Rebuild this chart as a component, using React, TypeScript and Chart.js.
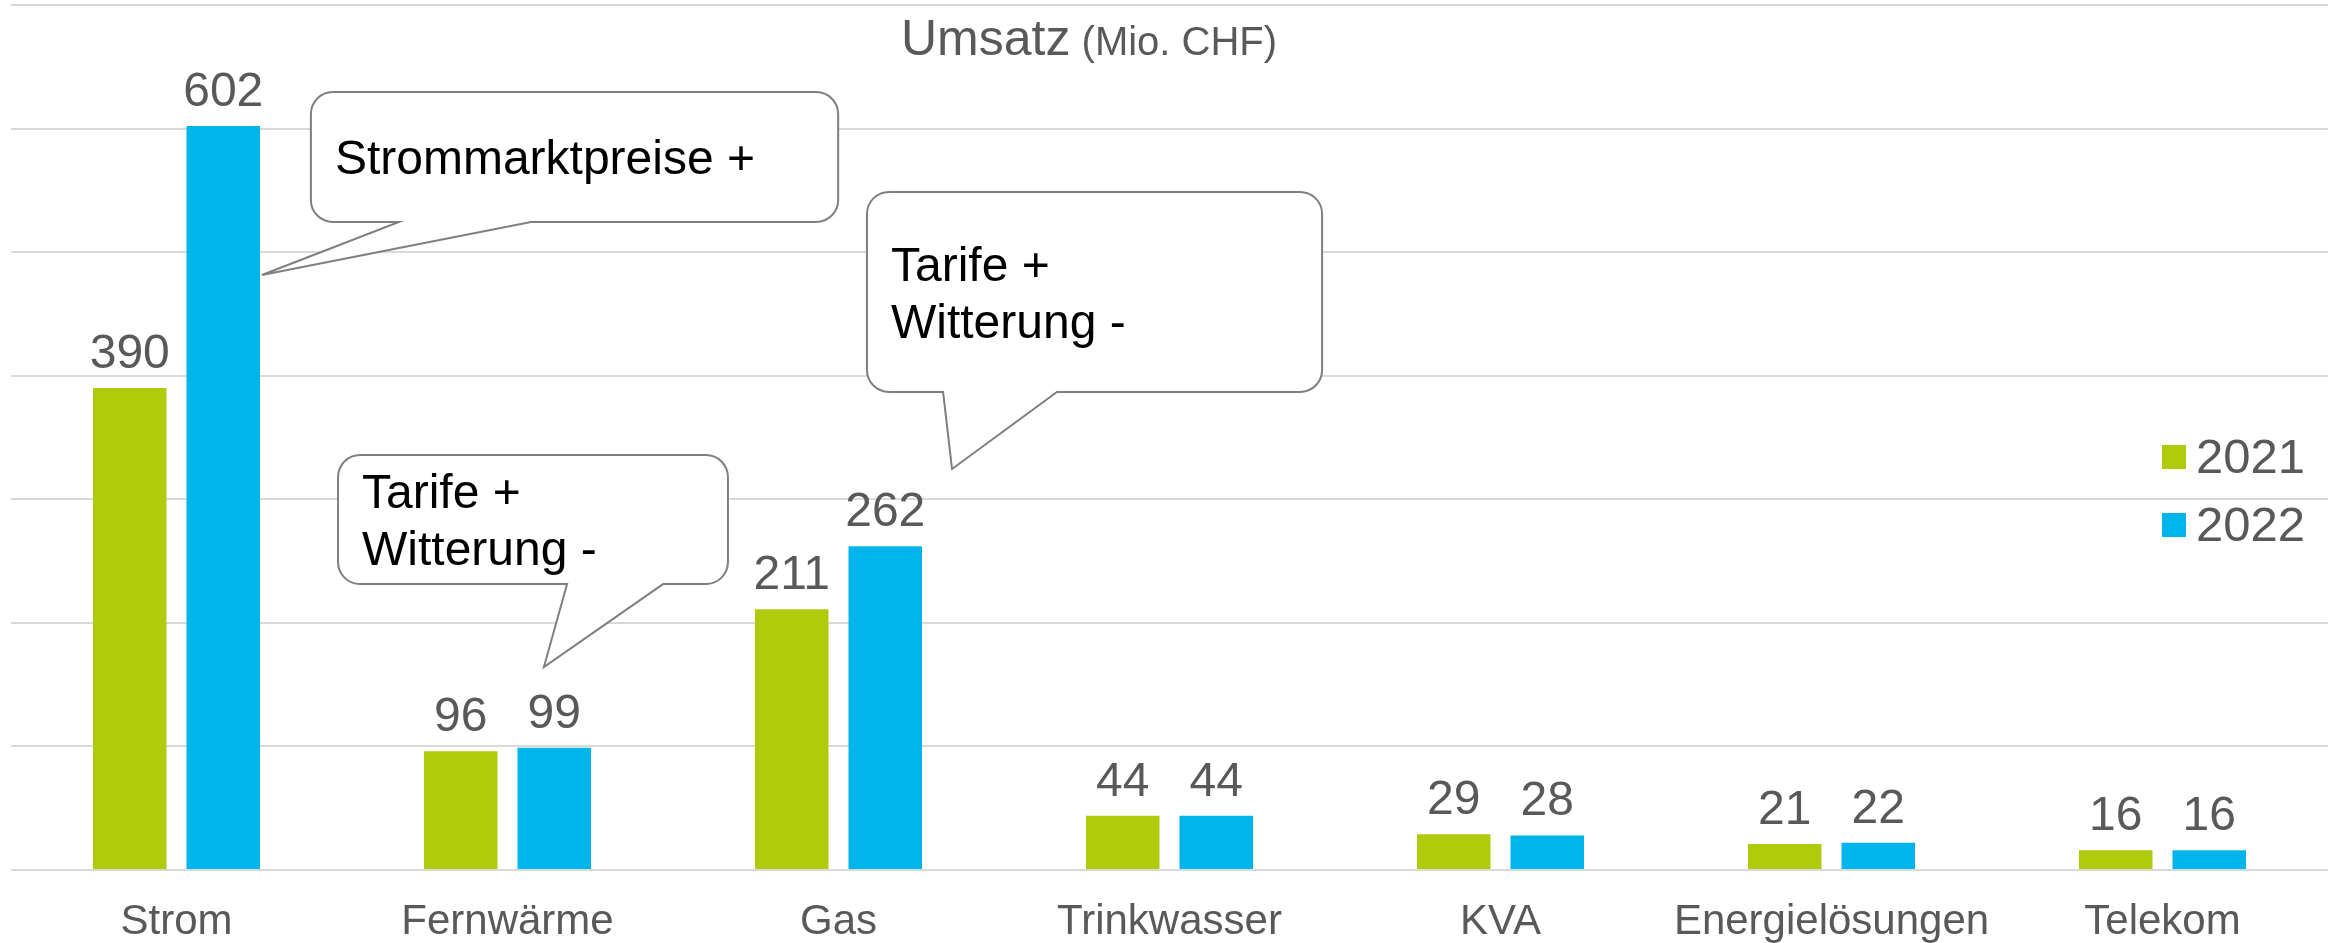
import React, { useEffect, useRef } from "react";
import { Chart, registerables } from "chart.js";

Chart.register(...registerables);

// ---------- data ----------
const categories = ["Strom", "Fernwärme", "Gas", "Trinkwasser", "KVA", "Energielösungen", "Telekom"];
const values2021 = [390, 96, 211, 44, 29, 21, 16];
const values2022 = [602, 99, 262, 44, 28, 22, 16];
const seriesLabels = ["2021", "2022"];
const axisMax = 700;
const axisStep = 100;
const titleMain = "Umsatz";
const titleSub = " (Mio. CHF)";
const calloutTexts = [["Strommarktpreise +"], ["Tarife +", "Witterung -"], ["Tarife +", "Witterung -"]];

// ---------- styles / positions ----------
const FONT = "'Liberation Sans', Arial, Helvetica, sans-serif";
const GREY = "#595959";
const COLORS = ["#B0CB0C", "#00B5EC"];

// callout geometry in data space (category index, value)
const calloutGeom = [
  { x0: 0.406, x1: 1.999, yTop: 629.6, yBottom: 524.4, base0: 0.672, base1: 1.071, tipX: 0.258, tipY: 481.5 },
  { x0: 2.086, x1: 3.461, yTop: 548.7, yBottom: 386.8, base0: 2.316, base1: 2.66, tipX: 2.343, tipY: 324.5 },
  { x0: 0.488, x1: 1.666, yTop: 335.8, yBottom: 231.4, base0: 1.18, base1: 1.47, tipX: 1.11, tipY: 164.3 },
];

const valueLabelPlugin = {
  id: "valueLabels",
  afterDatasetsDraw(chart: any) {
    const ctx = chart.ctx;
    ctx.save();
    ctx.fillStyle = GREY;
    ctx.font = `48px ${FONT}`;
    ctx.textAlign = "center";
    ctx.textBaseline = "alphabetic";
    chart.data.datasets.forEach((ds: any, di: number) => {
      const meta = chart.getDatasetMeta(di);
      meta.data.forEach((bar: any, i: number) => {
        ctx.fillText(String(ds.data[i]), bar.x, bar.y - 20);
      });
    });
    ctx.restore();
  },
};

function xPix(chart: any, v: number) {
  const s = chart.scales.x;
  const p0 = s.getPixelForValue(0);
  const p1 = s.getPixelForValue(1);
  return p0 + v * (p1 - p0);
}

const calloutPlugin = {
  id: "callouts",
  afterDatasetsDraw(chart: any) {
    const ctx = chart.ctx;
    const ys = chart.scales.y;
    calloutGeom.forEach((g, k) => {
      const L = xPix(chart, g.x0);
      const R = xPix(chart, g.x1);
      const T = ys.getPixelForValue(g.yTop);
      const B = ys.getPixelForValue(g.yBottom);
      const b0 = xPix(chart, g.base0);
      const b1 = xPix(chart, g.base1);
      const tx = xPix(chart, g.tipX);
      const ty = ys.getPixelForValue(g.tipY);
      const r = 22;
      ctx.save();
      ctx.beginPath();
      ctx.moveTo(L + r, T);
      ctx.lineTo(R - r, T);
      ctx.arcTo(R, T, R, T + r, r);
      ctx.lineTo(R, B - r);
      ctx.arcTo(R, B, R - r, B, r);
      ctx.lineTo(b1, B);
      ctx.lineTo(tx, ty);
      ctx.lineTo(b0, B);
      ctx.lineTo(L + r, B);
      ctx.arcTo(L, B, L, B - r, r);
      ctx.lineTo(L, T + r);
      ctx.arcTo(L, T, L + r, T, r);
      ctx.closePath();
      ctx.fillStyle = "#ffffff";
      ctx.fill();
      ctx.strokeStyle = "#7f7f7f";
      ctx.lineWidth = 2;
      ctx.stroke();

      const lines = calloutTexts[k];
      const lh = 57;
      ctx.fillStyle = "#000000";
      ctx.font = `48px ${FONT}`;
      ctx.textAlign = "left";
      ctx.textBaseline = "alphabetic";
      const capH = 48 * 0.716;
      const blockH = (lines.length - 1) * lh + capH;
      const top = (T + B) / 2 - blockH / 2;
      lines.forEach((ln, j) => {
        ctx.fillText(ln, L + 24, top + capH + j * lh);
      });
      ctx.restore();
    });
  },
};

const titleLegendPlugin = {
  id: "titleLegend",
  afterDraw(chart: any) {
    const ctx = chart.ctx;
    const area = chart.chartArea;
    ctx.save();
    // title
    ctx.fillStyle = GREY;
    ctx.textBaseline = "alphabetic";
    ctx.textAlign = "left";
    const tx = area.left + 890;
    ctx.font = `50px ${FONT}`;
    ctx.fillText(titleMain, tx, 55);
    const w = ctx.measureText(titleMain).width;
    ctx.font = `40px ${FONT}`;
    ctx.fillText(titleSub, tx + w, 55);

    // legend
    const sx = area.right - 166;
    const rows = [457, 525];
    chart.data.datasets.forEach((ds: any, i: number) => {
      const cy = rows[i];
      ctx.fillStyle = ds.backgroundColor;
      ctx.fillRect(sx, cy - 12, 24, 24);
      ctx.fillStyle = GREY;
      ctx.font = `49px ${FONT}`;
      ctx.textBaseline = "alphabetic";
      ctx.fillText(ds.label, sx + 34, cy + 16);
    });
    ctx.restore();
  },
};

export default function App() {
  const ref = useRef<HTMLCanvasElement | null>(null);
  useEffect(() => {
    document.body.style.margin = "0";
    const canvas = ref.current!;
    const chart = new Chart(canvas, {
      type: "bar",
      data: {
        labels: categories,
        datasets: [
          { label: seriesLabels[0], data: values2021, backgroundColor: COLORS[0], categoryPercentage: 0.565, barPercentage: 0.786 },
          { label: seriesLabels[1], data: values2022, backgroundColor: COLORS[1], categoryPercentage: 0.565, barPercentage: 0.786 },
        ],
      },
      options: {
        responsive: false,
        animation: false,
        devicePixelRatio: 1,
        layout: { padding: { left: 11, right: 5, top: 5, bottom: 0 } },
        plugins: { legend: { display: false }, tooltip: { enabled: false }, title: { display: false } },
        scales: {
          x: {
            grid: { display: false, drawTicks: false },
            border: { display: false },
            ticks: { color: GREY, font: { family: FONT, size: 42 }, padding: 27, maxRotation: 0, autoSkip: false },
            afterFit(scale: any) {
              scale.height = 73;
            },
          },
          y: {
            min: 0,
            max: axisMax,
            ticks: { display: false, stepSize: axisStep },
            grid: { color: "#d9d9d9", lineWidth: 2, drawTicks: false },
            border: { display: false },
          },
        },
      },
      plugins: [valueLabelPlugin, calloutPlugin, titleLegendPlugin],
    });
    return () => chart.destroy();
  }, []);
  return (
    <div style={{ position: "absolute", left: 0, top: 0, width: 2333, height: 943, background: "#fff" }}>
      <canvas ref={ref} width={2333} height={943} />
    </div>
  );
}
